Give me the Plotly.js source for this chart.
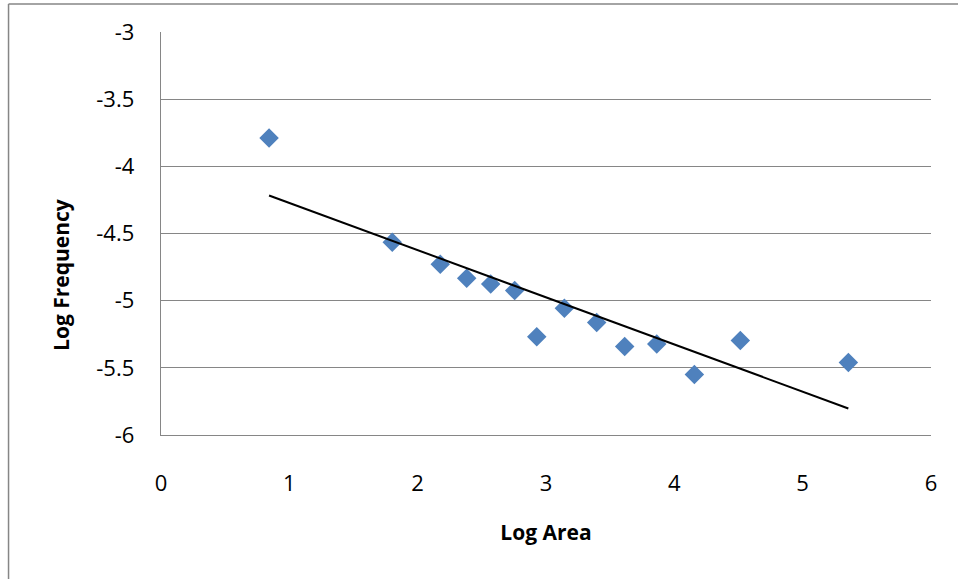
<!DOCTYPE html>
<html>
<head>
<meta charset="utf-8">
<script src="https://cdn.plot.ly/plotly-3.0.1.min.js"></script>
<style>html,body{margin:0;padding:0;background:#fff;}#chart{width:958px;height:579px;}</style>
</head>
<body>
<div id="chart"></div>
<script>
// Data
var logArea = [0.842, 1.802, 2.176, 2.382, 2.569, 2.756, 2.928, 3.143, 3.395, 3.613, 3.863, 4.156, 4.514, 5.356];
var logFrequency = [-3.789, -4.565, -4.729, -4.834, -4.875, -4.925, -5.269, -5.057, -5.162, -5.341, -5.323, -5.550, -5.296, -5.460];
var xTicks = [0, 1, 2, 3, 4, 5, 6];
var yTicks = [-3, -3.5, -4, -4.5, -5, -5.5, -6];

// Linear trendline (least squares) from the data
var n = logArea.length, mx = 0, my = 0;
for (var i = 0; i < n; i++) { mx += logArea[i]; my += logFrequency[i]; }
mx /= n; my /= n;
var sxy = 0, sxx = 0;
for (var i = 0; i < n; i++) { sxy += (logArea[i]-mx)*(logFrequency[i]-my); sxx += (logArea[i]-mx)*(logArea[i]-mx); }
var slope = sxy / sxx, intercept = my - slope*mx;
var xmin = Math.min.apply(null, logArea), xmax = Math.max.apply(null, logArea);
var trendX = [xmin, xmax];
var trendY = [intercept + slope*xmin, intercept + slope*xmax];

var font = "Open Sans, Liberation Sans, sans-serif";
var grey = "#868686";

var traces = [
  {x: logArea, y: logFrequency, type: "scatter", mode: "markers",
   marker: {symbol: "diamond", size: 15, color: "#4F81BD", line: {width: 0}}, showlegend: false, hoverinfo: "x+y"},
  {x: trendX, y: trendY, type: "scatter", mode: "lines",
   line: {color: "#000000", width: 2}, showlegend: false, hoverinfo: "skip"}
];

var layout = {
  width: 958, height: 579,
  margin: {l: 161, r: 27, t: 32, b: 144},
  paper_bgcolor: "#ffffff", plot_bgcolor: "#ffffff",
  font: {family: font, color: "#000000", size: 22},
  showlegend: false,
  xaxis: {
    range: [0, 6], tickvals: xTicks, ticktext: xTicks.map(String),
    showgrid: false, zeroline: false, showline: true, linecolor: grey, linewidth: 1.3,
    ticks: "", ticklabelstandoff: 28, tickfont: {size: 22, family: font},
    title: {text: "<b>Log Area</b>", font: {size: 21, family: font}, standoff: 29}
  },
  yaxis: {
    range: [-6, -3], tickvals: yTicks, ticktext: yTicks.map(String),
    showgrid: true, gridcolor: grey, gridwidth: 1.3, zeroline: false,
    showline: true, linecolor: grey, linewidth: 1.3,
    ticks: "", ticklabelstandoff: 21, tickfont: {size: 22, family: font}
  },
  annotations: [{
    text: "<b>Log Frequency</b>", xref: "paper", yref: "paper",
    x: -0.13, y: 0.397, xanchor: "center", yanchor: "middle",
    textangle: -90, showarrow: false, font: {size: 21, family: font}
  }],
  shapes: [
    {type: "line", xref: "paper", yref: "paper", x0: -0.198, x1: 1.1, y0: 1.0695, y1: 1.0695, line: {color: grey, width: 1.5}},
    {type: "line", xref: "paper", yref: "paper", x0: -0.198, x1: -0.198, y0: 1.0695, y1: -0.4, line: {color: grey, width: 1.5}}
  ]
};

Plotly.newPlot("chart", traces, layout, {displayModeBar: false, staticPlot: true});
</script>
</body>
</html>
